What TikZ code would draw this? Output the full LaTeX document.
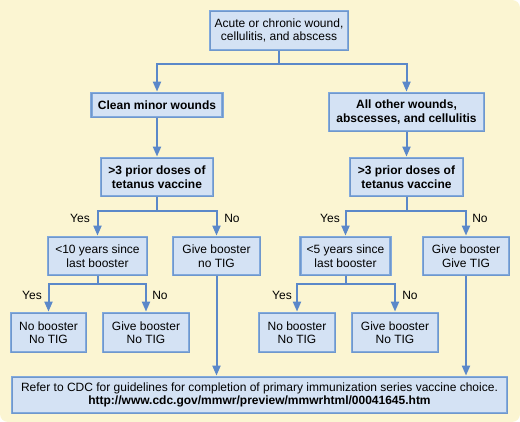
\documentclass[tikz,border=0pt]{standalone}
\usepackage{fontspec}
\setmainfont{Liberation Sans}
\usepackage{tikz}
\usetikzlibrary{arrows.meta}
\usepackage{xcolor}
\definecolor{bgyellow}{HTML}{FBF5D2}
\definecolor{boxfill}{HTML}{D4E2F4}
\definecolor{boxedge}{HTML}{82AADD}
\definecolor{boxshade}{HTML}{6F97CC}
\definecolor{flowblue}{HTML}{5B88C9}
\tikzset{
  box/.style={fill=boxfill, draw=boxedge, line width=2.8pt, align=center, inner sep=0pt,
    font=\fontsize{12}{13.5}\selectfont, text=black,
    postaction={draw=boxshade, line width=0.6pt}},
  boldbox/.style={box, font=\fontsize{12}{13.5}\selectfont\bfseries},
  flow/.style={-{Triangle[width=8pt,length=10pt]}, line width=2pt, draw=flowblue},
  answer/.style={font=\fontsize{12}{13.5}\selectfont, inner sep=0pt},
}

\begin{document}
\begin{tikzpicture}[x=1pt, y=-1pt]  % 1 unit = 1 px of the 520 x 422 sheet
  \useasboundingbox (0,0) rectangle (520,422);
  % sheet, corners rounded except top-left
  \fill[bgyellow, rounded corners=8pt] (0,0) rectangle (520,422);
  \fill[bgyellow] (0,0) rectangle (20,20);
  % level 0
  \node[box, minimum width=138pt, minimum height=39pt] (wound) at (279,30.5)
    {Acute or chronic wound,\\ cellulitis, and abscess};
  % level 1
  \node[boldbox, minimum width=131pt, minimum height=24pt] (clean) at (157,105) {Clean minor wounds};
  \node[boldbox, minimum width=155pt, minimum height=38pt] (other) at (406.5,112)
    {All other wounds,\\ abscesses, and cellulitis};
  % level 2
  \node[boldbox, minimum width=112pt, minimum height=38pt] (dosesL) at (157,177)
    {>3 prior doses of\\ tetanus vaccine};
  \node[boldbox, minimum width=113pt, minimum height=38pt] (dosesR) at (406.5,177)
    {>3 prior doses of\\ tetanus vaccine};
  % level 3
  \node[box, minimum width=99pt, minimum height=38pt] (tenyr) at (97.5,256) {<10 years since\\ last booster};
  \node[box, minimum width=87pt, minimum height=38pt] (boostL) at (216.5,256) {Give booster\\ no TIG};
  \node[box, minimum width=90pt, minimum height=38pt] (fiveyr) at (345.5,256) {<5 years since\\ last booster};
  \node[box, minimum width=86pt, minimum height=38pt] (boostR) at (466,256) {Give booster\\ Give TIG};
  % level 4
  \node[box, minimum width=75pt, minimum height=39pt] (noneL) at (48.5,332.5) {No booster\\ No TIG};
  \node[box, minimum width=86pt, minimum height=39pt] (giveL) at (146,332.5) {Give booster\\ No TIG};
  \node[box, minimum width=76pt, minimum height=39pt] (noneR) at (297,332.5) {No booster\\ No TIG};
  \node[box, minimum width=86pt, minimum height=39pt] (giveR) at (395,332.5) {Give booster\\ No TIG};
  % CDC reference
  \node[box, minimum width=495pt, minimum height=36pt] (cdc) at (259.5,395)
    {Refer to CDC for guidelines for completion of primary immunization series vaccine choice.\\
     \textbf{http://www.cdc.gov/mmwr/preview/mmwrhtml/00041645.htm}};
  % connectors
  \draw[flow] (wound.south) -- ++(0,13) -| (clean.north);
  \draw[flow] (wound.south) -- ++(0,13) -| (other.north);
  \draw[flow] (clean.south) -- (dosesL.north);
  \draw[flow] (other.south) -- (dosesR.north);
  \draw[flow] (dosesL.south) -- ++(0,14) -| (tenyr.north);
  \draw[flow] (dosesL.south) -- ++(0,14) -| (boostL.north);
  \draw[flow] (dosesR.south) -- ++(0,14) -| (fiveyr.north);
  \draw[flow] (dosesR.south) -- ++(0,14) -| (boostR.north);
  \draw[flow] (tenyr.south) -- ++(0,8) -| (noneL.north);
  \draw[flow] (tenyr.south) -- ++(0,8) -| (giveL.north);
  \draw[flow] (fiveyr.south) -- ++(0,8) -| (noneR.north);
  \draw[flow] (fiveyr.south) -- ++(0,8) -| (giveR.north);
  \draw[flow] (boostL.south) -- (boostL.south |- cdc.north);
  \draw[flow] (boostR.south) -- (boostR.south |- cdc.north);
  % yes / no labels
  \node[answer] (yes1) at (80,218) {Yes};
  \node[answer] (no1) at (232,218) {No};
  \node[answer] (yes2) at (330,218) {Yes};
  \node[answer] (no2) at (480,218) {No};
  \node[answer] (yes3) at (32,295) {Yes};
  \node[answer] (no3) at (160,295) {No};
  \node[answer] (yes4) at (282,295) {Yes};
  \node[answer] (no4) at (410,295) {No};
\end{tikzpicture}
\end{document}
